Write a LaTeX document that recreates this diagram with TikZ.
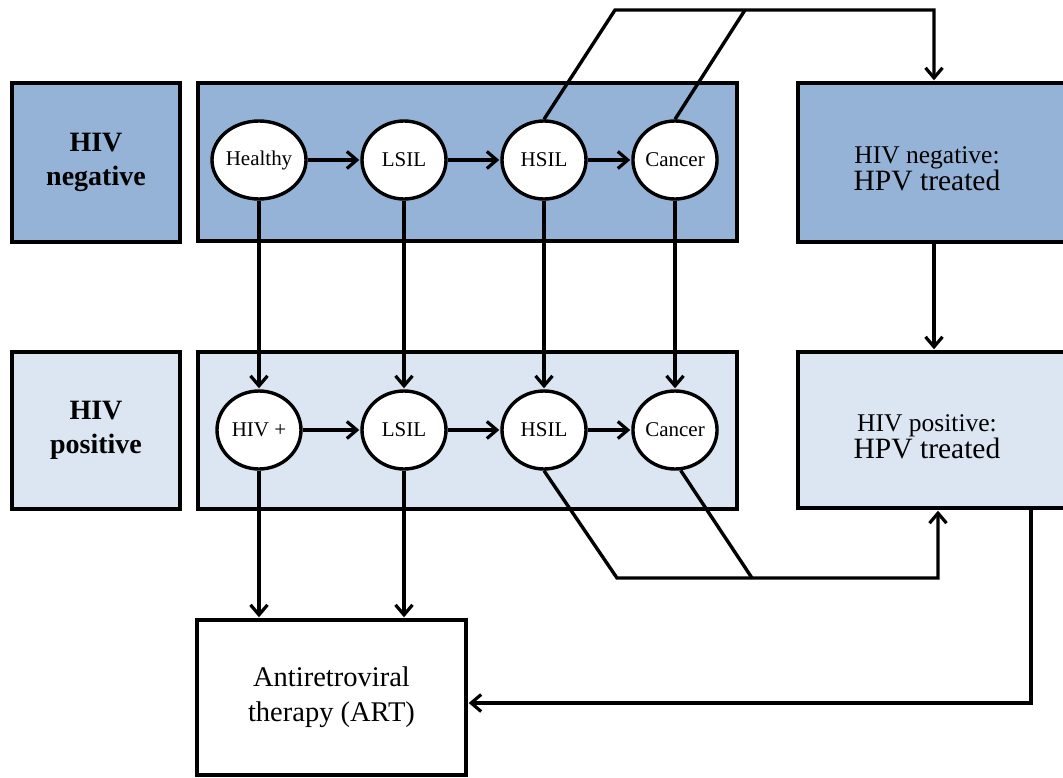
\documentclass[tikz,border=0pt]{standalone}
\usepackage{fontspec}
\setmainfont{LiberationSerif}[Extension=.ttf, UprightFont=*-Regular, BoldFont=*-Bold, ItalicFont=*-Italic, BoldItalicFont=*-BoldItalic]
\usetikzlibrary{arrows.meta,shapes.geometric}
\definecolor{dblue}{HTML}{95B3D7}
\definecolor{lblue}{HTML}{DCE6F2}
\begin{document}
\begin{tikzpicture}[x=1pt,y=-1pt,
  box/.style={draw, line width=3.4pt, rectangle, inner sep=0pt},
  label/.style={align=center, font=\bfseries\fontsize{28}{34}\selectfont},
  state/.style={draw, ellipse, fill=white, line width=3.4pt, minimum width=84pt, minimum height=78pt, inner sep=0pt, font=\fontsize{21}{24}\selectfont},
  conn/.style={line width=3.4pt, line join=miter},
  arr/.style={conn, -{Straight Barb[length=10pt,width=17pt,line width=3.2pt]}, shorten >=1pt}]
\useasboundingbox (0,0) rectangle (1063,778);
% boxes
\node[box, fill=dblue, minimum width=168pt, minimum height=159pt, label] (lneg) at (96,162.5) {HIV\\negative};
\node[box, fill=dblue, minimum width=539pt, minimum height=158pt] (band1) at (467.5,162) {};
\node[box, fill=dblue, minimum width=272pt, minimum height=159pt] (rneg) at (934,162.5) {};
\node[align=center] (rnegt) at (927,169) {\fontsize{25.5}{35}\selectfont HIV negative:\\\fontsize{29.5}{35}\selectfont HPV treated};

\node[box, fill=lblue, minimum width=168pt, minimum height=157pt, label] (lpos) at (96,430.5) {HIV\\positive};
\node[box, fill=lblue, minimum width=539pt, minimum height=157pt] (band2) at (467.5,430.5) {};
\node[box, fill=lblue, minimum width=272pt, minimum height=156pt] (rpos) at (934,430) {};
\node[align=center] (rpost) at (927,437) {\fontsize{25.5}{35}\selectfont HIV positive:\\\fontsize{29.5}{35}\selectfont HPV treated};

\node[box, fill=white, minimum width=269pt, minimum height=155pt, align=center, font=\fontsize{28.5}{35}\selectfont] (art) at (331.5,697.5) {Antiretroviral\\therapy (ART)};

% states
\node[state] (h1) at (259,160) {Healthy};
\node[state] (l1) at (404,160) {LSIL};
\node[state] (s1) at (544,160) {HSIL};
\node[state] (c1) at (675,160) {Cancer};
\node[state] (h2) at (259,430) {HIV +};
\node[state] (l2) at (404,430) {LSIL};
\node[state] (s2) at (544,430) {HSIL};
\node[state] (c2) at (675,430) {Cancer};

% coordinates
\coordinate (t1) at (615,10);
\coordinate (t2) at (745,10);
\coordinate (t3) at (934,10);
\coordinate (b1) at (617,578);
\coordinate (b2) at (752,578);
\coordinate (b3) at (938,578);
\coordinate (r1) at (1031,703);

% horizontal arrows
\draw[arr] (h1.east) -- (l1.west);
\draw[arr] (l1.east) -- (s1.west);
\draw[arr] (s1.east) -- (c1.west);
\draw[arr] (h2.east) -- (l2.west);
\draw[arr] (l2.east) -- (s2.west);
\draw[arr] (s2.east) -- (c2.west);
% vertical arrows
\draw[arr] (h1.south) -- (h2.north);
\draw[arr] (l1.south) -- (l2.north);
\draw[arr] (s1.south) -- (s2.north);
\draw[arr] (c1.south) -- (c2.north);
\draw[arr] (h2.south) -- (h2.south |- art.north);
\draw[arr] (l2.south) -- (l2.south |- art.north);
% treatment paths
\draw[arr] (s1.north) -- (t1) -- (t3) -- (t3 |- rneg.north);
\draw[conn] (c1.north) -- (t2);
\draw[arr] (rneg.south) -- (rpos.north);
\draw[arr] (s2.south) -- (b1) -- (b3) -- (b3 |- rpos.south);
\draw[conn] (c2.-82) -- (b2);
\draw[arr] (rpos.south -| r1) -- (r1) -- (r1 -| art.east);
\end{tikzpicture}
\end{document}
